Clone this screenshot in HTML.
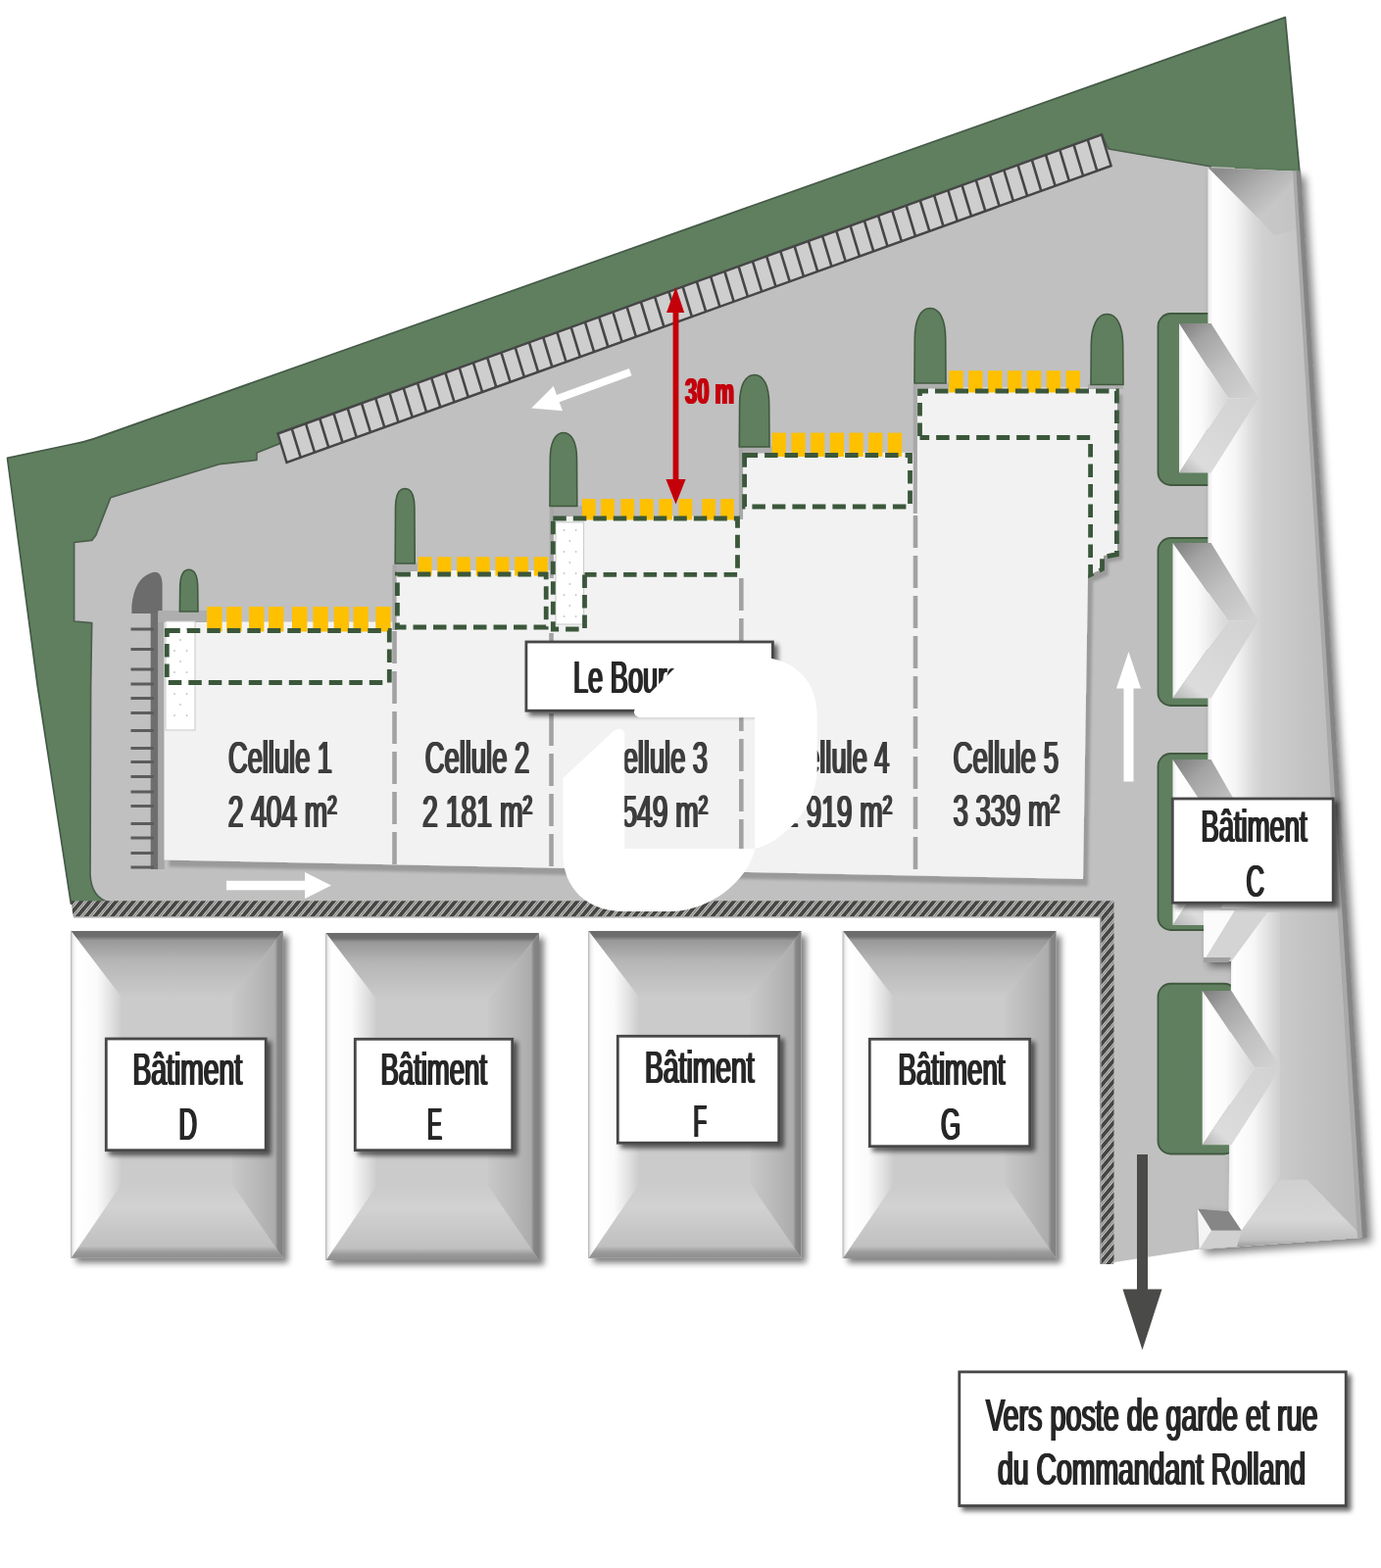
<!DOCTYPE html>
<html lang="fr"><head><meta charset="utf-8"><title>Plan de masse - Le Bourget</title>
<style>html,body{margin:0;padding:0;background:#fff;overflow:hidden}svg{display:block}text{font-family:"Liberation Sans",sans-serif}</style></head><body>
<svg width="1409" height="1600" viewBox="0 0 1409 1600" role="img" aria-label="Plan de masse">
<defs>
<filter id="sh" x="-20%" y="-20%" width="150%" height="150%"><feGaussianBlur in="SourceAlpha" stdDeviation="3.2"/><feOffset dx="4.5" dy="4.5"/><feComponentTransfer><feFuncA type="linear" slope="0.5"/></feComponentTransfer><feMerge><feMergeNode/><feMergeNode in="SourceGraphic"/></feMerge></filter>
<filter id="sh2" x="-20%" y="-20%" width="150%" height="150%"><feGaussianBlur in="SourceAlpha" stdDeviation="2.4"/><feOffset dx="3.5" dy="3.5"/><feComponentTransfer><feFuncA type="linear" slope="0.6"/></feComponentTransfer><feMerge><feMergeNode/><feMergeNode in="SourceGraphic"/></feMerge></filter>
<filter id="shB" x="-5%" y="-5%" width="110%" height="112%"><feGaussianBlur in="SourceAlpha" stdDeviation="1.4"/><feOffset dx="5" dy="7"/><feComponentTransfer><feFuncA type="linear" slope="0.2"/></feComponentTransfer><feMerge><feMergeNode/><feMergeNode in="SourceGraphic"/></feMerge></filter>
<filter id="shC" x="-10%" y="-5%" width="130%" height="112%"><feGaussianBlur in="SourceAlpha" stdDeviation="4"/><feOffset dx="5" dy="5"/><feComponentTransfer><feFuncA type="linear" slope="0.5"/></feComponentTransfer><feMerge><feMergeNode/><feMergeNode in="SourceGraphic"/></feMerge></filter>
<filter id="soft" x="-5%" y="-20%" width="110%" height="140%"><feOffset in="SourceGraphic" dx="0.75" result="a"/><feOffset in="SourceGraphic" dx="-0.75" result="b"/><feMerge result="m"><feMergeNode in="a"/><feMergeNode in="b"/><feMergeNode in="SourceGraphic"/></feMerge><feGaussianBlur in="m" stdDeviation="0.45"/></filter>
<pattern id="hatch" width="6.8" height="10" patternUnits="userSpaceOnUse" patternTransform="rotate(40)"><rect width="6.8" height="10" fill="#d8d8d6"/><rect x="0" y="0" width="4.0" height="10" fill="#454543"/><rect x="5.0" y="0" width="0.9" height="10" fill="#6a6a68"/></pattern>
<linearGradient id="gTop" x1="0" y1="0" x2="0" y2="1"><stop offset="0" stop-color="#6a6a6a"/><stop offset="0.08" stop-color="#6e6e6e"/><stop offset="0.14" stop-color="#989898"/><stop offset="0.45" stop-color="#b6b6b6"/><stop offset="1" stop-color="#cbcbcb"/></linearGradient>
<linearGradient id="gLeft" x1="0" y1="0" x2="1" y2="0"><stop offset="0" stop-color="#c8c8c8"/><stop offset="0.05" stop-color="#f2f2f2"/><stop offset="0.12" stop-color="#ffffff"/><stop offset="0.5" stop-color="#fbfbfb"/><stop offset="0.8" stop-color="#e0e0e0"/><stop offset="1" stop-color="#cbcbcb"/></linearGradient>
<linearGradient id="gRight" x1="0" y1="0" x2="1" y2="0"><stop offset="0" stop-color="#c8c8c8"/><stop offset="0.45" stop-color="#bababa"/><stop offset="0.84" stop-color="#acacac"/><stop offset="0.9" stop-color="#868686"/><stop offset="1" stop-color="#808080"/></linearGradient>
<linearGradient id="gBot" x1="0" y1="0" x2="0" y2="1"><stop offset="0" stop-color="#cbcbcb"/><stop offset="0.3" stop-color="#d2d2d2"/><stop offset="0.84" stop-color="#c0c0c0"/><stop offset="0.92" stop-color="#9a9a9a"/><stop offset="1" stop-color="#8e8e8e"/></linearGradient>
<linearGradient id="gCol" x1="0" y1="0" x2="1" y2="0"><stop offset="0" stop-color="#e8e8e8"/><stop offset="0.06" stop-color="#ffffff"/><stop offset="0.22" stop-color="#f0f0f0"/><stop offset="0.42" stop-color="#cfcfcf"/><stop offset="0.7" stop-color="#c4c4c4"/><stop offset="0.92" stop-color="#b0b0b0"/><stop offset="1" stop-color="#8a8a8a"/></linearGradient>
<linearGradient id="gWing" x1="0" y1="0" x2="1" y2="0"><stop offset="0" stop-color="#eaeaea"/><stop offset="0.08" stop-color="#ffffff"/><stop offset="0.45" stop-color="#fafafa"/><stop offset="1" stop-color="#d6d6d6"/></linearGradient>
<linearGradient id="gWingT" x1="0" y1="0" x2="0.9" y2="1"><stop offset="0" stop-color="#7c7c7c"/><stop offset="0.25" stop-color="#a4a4a4"/><stop offset="0.6" stop-color="#c0c0c0"/><stop offset="1" stop-color="#d2d2d2"/></linearGradient>
<linearGradient id="gWingB" x1="0" y1="1" x2="0.9" y2="0"><stop offset="0" stop-color="#b4b4b4"/><stop offset="0.2" stop-color="#dcdcdc"/><stop offset="1" stop-color="#d2d2d2"/></linearGradient>
<linearGradient id="gShB" x1="0" y1="0" x2="0" y2="1"><stop offset="0" stop-color="#9a9a9a"/><stop offset="1" stop-color="#c0c0c0"/></linearGradient>
<linearGradient id="gShR" x1="0" y1="0" x2="1" y2="0"><stop offset="0" stop-color="#9a9a9a"/><stop offset="1" stop-color="#c0c0c0"/></linearGradient>
</defs>
<rect width="1409" height="1600" fill="#ffffff"/>
<path d="M7.5,467.3 L75,453 Q86,451 96,447.6 L1311.3,17.6 L1326,176 L1240,600 L120,930 L72.4,922 L38.3,700 Z" fill="#5f7f5f" stroke="#455a47" stroke-width="1.7" stroke-linejoin="round"/>
<path d="M283.5,442.5 L1124,137.3 L1131,152 L1236,170 L1260,171 L1260,1270 L1221,1275 L1124,1290 L1124,921 L112,921 Q93,916 92,892 L92.6,700 L93.7,635.6 L75.6,634 L75.6,553.5 L93.7,551.4 L97.9,546 L112.8,507.7 L223.5,473.7 L261.9,469.4 L261.9,462 L286,452.4 Z" fill="#c0c0c0"/>
<path d="M1236,170 L1131,152 L1124,137.3 M286,452.4 L261.9,462 L261.9,469.4 L223.5,473.7 L112.8,507.7 L97.9,546 L93.7,551.4 L75.6,553.5 L75.6,634 L93.7,635.6 L92.6,700 L92,892 Q93,916 112,921" fill="none" stroke="#4c5e4c" stroke-width="1.7" stroke-linejoin="round"/>
<polygon points="283.5,442.5 1124,137.3 1133.6,169.2 292.5,472" fill="#cecece" stroke="#464646" stroke-width="2.5"/>
<path d="M297.7,437.3L306.8,466.9M312.0,432.2L321.0,461.7M326.2,427.0L335.3,456.6M340.5,421.8L349.5,451.5M354.7,416.6L363.8,446.3M369.0,411.5L378.0,441.2M383.2,406.3L392.3,436.1M397.5,401.1L406.5,430.9M411.7,395.9L420.8,425.8M426.0,390.8L435.1,420.7M440.2,385.6L449.3,415.5M454.4,380.4L463.6,410.4M468.7,375.3L477.8,405.3M482.9,370.1L492.1,400.1M497.2,364.9L506.3,395.0M511.4,359.7L520.6,389.9M525.7,354.6L534.9,384.8M539.9,349.4L549.1,379.6M554.2,344.2L563.4,374.5M568.4,339.0L577.6,369.4M582.7,333.9L591.9,364.2M596.9,328.7L606.1,359.1M611.2,323.5L620.4,354.0M625.4,318.4L634.6,348.8M639.6,313.2L648.9,343.7M653.9,308.0L663.2,338.6M668.1,302.8L677.4,333.4M682.4,297.7L691.7,328.3M696.6,292.5L705.9,323.2M710.9,287.3L720.2,318.0M725.1,282.1L734.4,312.9M739.4,277.0L748.7,307.8M753.6,271.8L762.9,302.6M767.9,266.6L777.2,297.5M782.1,261.4L791.5,292.4M796.3,256.3L805.7,287.2M810.6,251.1L820.0,282.1M824.8,245.9L834.2,277.0M839.1,240.8L848.5,271.8M853.3,235.6L862.7,266.7M867.6,230.4L877.0,261.6M881.8,225.2L891.2,256.4M896.1,220.1L905.5,251.3M910.3,214.9L919.8,246.2M924.6,209.7L934.0,241.1M938.8,204.5L948.3,235.9M953.1,199.4L962.5,230.8M967.3,194.2L976.8,225.7M981.5,189.0L991.0,220.5M995.8,183.9L1005.3,215.4M1010.0,178.7L1019.6,210.3M1024.3,173.5L1033.8,205.1M1038.5,168.3L1048.1,200.0M1052.8,163.2L1062.3,194.9M1067.0,158.0L1076.6,189.7M1081.3,152.8L1090.8,184.6M1095.5,147.6L1105.1,179.5M1109.8,142.5L1119.3,174.3" stroke="#464646" stroke-width="2.6" fill="none"/>
<path d="M134.4,626 L134.4,618 Q137,592 152,585.5 Q160,581.5 163.5,587 Q165.6,590 165.6,598 L165.6,626 Z" fill="#6c6c6c"/>
<rect x="153.7" y="625" width="7.8" height="262" fill="#6e6e6e"/><rect x="161.3" y="625" width="6.4" height="262" fill="#a6a6a6"/>
<path d="M133.5,641.9H157M133.5,662.5H157M133.5,683H157M133.5,698H157M133.5,712.5H157M133.5,727.5H157M133.5,745.6H157M133.5,763.5H157M133.5,777.5H157M133.5,792.5H157M133.5,808H157M133.5,822.5H157M133.5,840.6H157M133.5,855H157M133.5,870.6H157M133.5,885H157" stroke="#5c5c5c" stroke-width="3" fill="none"/>
<g filter="url(#shB)"><polygon points="167.5,634.5 402.5,634.5 402.5,582 563,582 563,526.5 757,526.5 757,461.7 934,461.7 934,395.5 1140,395.5 1140,564 1126,567 1126,580 1112,586 1110,586 1105,897 167.5,877.5" fill="#f2f2f2"/></g>
<rect x="161.3" y="623" width="49.69999999999999" height="12" fill="#aeaeae"/>
<rect x="402.5" y="574" width="23.5" height="9" fill="#aeaeae"/>
<rect x="561.5" y="516" width="33.5" height="11" fill="#aeaeae"/>
<rect x="754" y="455.5" width="34" height="7.0" fill="#aeaeae"/>
<rect x="933" y="390.5" width="35" height="6.0" fill="#aeaeae"/>
<rect x="1110" y="392" width="36" height="5" fill="#aeaeae"/>
<path d="M183.4,624 L183.7,599.0 C183.9,588.3 186.9,581.3 192.7,581.3 C198.5,581.3 201.5,588.3 201.7,599.0 L202,624 Z" fill="#5f7f5f" stroke="#41593f" stroke-width="1.6"/>
<path d="M403.2,575 L403.5,517.5 C403.7,506.0 407.0,498.5 413.2,498.5 C419.4,498.5 422.7,506.0 422.9,517.5 L423.2,575 Z" fill="#5f7f5f" stroke="#41593f" stroke-width="1.6"/>
<path d="M561,516.5 L561.3,467.9 C561.5,451.9 566.3,441.5 574.9,441.5 C583.5,441.5 588.3,451.9 588.5,467.9 L588.8,516.5 Z" fill="#5f7f5f" stroke="#41593f" stroke-width="1.6"/>
<path d="M754.3,456 L754.6,411.7 C754.8,394.0 760.1,382.5 769.65,382.5 C779.2,382.5 784.5,394.0 784.7,411.7 L785,456 Z" fill="#5f7f5f" stroke="#41593f" stroke-width="1.6"/>
<path d="M933,391 L933.3,344.9 C933.5,326.5 939.1,314.5 949.0,314.5 C958.9,314.5 964.5,326.5 964.7,344.9 L965,391 Z" fill="#5f7f5f" stroke="#41593f" stroke-width="1.6"/>
<path d="M1113,392.5 L1113.3,351.9 C1113.5,332.9 1119.3,320.5 1129.5,320.5 C1139.7,320.5 1145.5,332.9 1145.7,351.9 L1146,392.5 Z" fill="#5f7f5f" stroke="#41593f" stroke-width="1.6"/>
<rect x="169" y="634" width="30" height="111" fill="#ffffff" stroke="#c8c8c8" stroke-width="1"/>
<circle cx="178.0" cy="642.0" r="0.9" fill="#c4c4c4"/><circle cx="190.6" cy="642.0" r="0.9" fill="#c4c4c4"/><circle cx="184.0" cy="653.0" r="0.9" fill="#c4c4c4"/><circle cx="178.0" cy="664.0" r="0.9" fill="#c4c4c4"/><circle cx="190.6" cy="664.0" r="0.9" fill="#c4c4c4"/><circle cx="184.0" cy="675.0" r="0.9" fill="#c4c4c4"/><circle cx="178.0" cy="686.0" r="0.9" fill="#c4c4c4"/><circle cx="190.6" cy="686.0" r="0.9" fill="#c4c4c4"/><circle cx="184.0" cy="697.0" r="0.9" fill="#c4c4c4"/><circle cx="178.0" cy="708.0" r="0.9" fill="#c4c4c4"/><circle cx="190.6" cy="708.0" r="0.9" fill="#c4c4c4"/><circle cx="184.0" cy="719.0" r="0.9" fill="#c4c4c4"/><circle cx="178.0" cy="730.0" r="0.9" fill="#c4c4c4"/><circle cx="190.6" cy="730.0" r="0.9" fill="#c4c4c4"/>
<rect x="567" y="533" width="28.6" height="104" fill="#ffffff" stroke="#c8c8c8" stroke-width="1"/>
<circle cx="575.6" cy="541.0" r="0.9" fill="#c4c4c4"/><circle cx="587.6" cy="541.0" r="0.9" fill="#c4c4c4"/><circle cx="581.3" cy="552.0" r="0.9" fill="#c4c4c4"/><circle cx="575.6" cy="563.0" r="0.9" fill="#c4c4c4"/><circle cx="587.6" cy="563.0" r="0.9" fill="#c4c4c4"/><circle cx="581.3" cy="574.0" r="0.9" fill="#c4c4c4"/><circle cx="575.6" cy="585.0" r="0.9" fill="#c4c4c4"/><circle cx="587.6" cy="585.0" r="0.9" fill="#c4c4c4"/><circle cx="581.3" cy="596.0" r="0.9" fill="#c4c4c4"/><circle cx="575.6" cy="607.0" r="0.9" fill="#c4c4c4"/><circle cx="587.6" cy="607.0" r="0.9" fill="#c4c4c4"/><circle cx="581.3" cy="618.0" r="0.9" fill="#c4c4c4"/><circle cx="575.6" cy="629.0" r="0.9" fill="#c4c4c4"/><circle cx="587.6" cy="629.0" r="0.9" fill="#c4c4c4"/>
<rect x="211.2" y="619" width="15.4" height="25.5" fill="#ffc000"/><rect x="231.2" y="619" width="15.4" height="25.5" fill="#ffc000"/><rect x="254.0" y="619" width="15.4" height="25.5" fill="#ffc000"/><rect x="274.0" y="619" width="15.4" height="25.5" fill="#ffc000"/><rect x="298.0" y="619" width="15.4" height="25.5" fill="#ffc000"/><rect x="319.4" y="619" width="15.4" height="25.5" fill="#ffc000"/><rect x="340.7" y="619" width="15.4" height="25.5" fill="#ffc000"/><rect x="360.5" y="619" width="15.4" height="25.5" fill="#ffc000"/><rect x="383.3" y="619" width="15.4" height="25.5" fill="#ffc000"/>
<rect x="426.6" y="568.3" width="14" height="19.200000000000045" fill="#ffc000"/><rect x="446.3" y="568.3" width="14" height="19.200000000000045" fill="#ffc000"/><rect x="466.0" y="568.3" width="14" height="19.200000000000045" fill="#ffc000"/><rect x="485.7" y="568.3" width="14" height="19.200000000000045" fill="#ffc000"/><rect x="505.4" y="568.3" width="14" height="19.200000000000045" fill="#ffc000"/><rect x="525.1" y="568.3" width="14" height="19.200000000000045" fill="#ffc000"/><rect x="544.8" y="568.3" width="14" height="19.200000000000045" fill="#ffc000"/>
<rect x="594.0" y="509" width="13.6" height="21.5" fill="#ffc000"/><rect x="613.2" y="509" width="13.6" height="21.5" fill="#ffc000"/><rect x="633.5" y="509" width="13.6" height="21.5" fill="#ffc000"/><rect x="652.9" y="509" width="13.6" height="21.5" fill="#ffc000"/><rect x="672.4" y="509" width="13.6" height="21.5" fill="#ffc000"/><rect x="692.6" y="509" width="13.6" height="21.5" fill="#ffc000"/><rect x="716.3" y="509" width="13.6" height="21.5" fill="#ffc000"/><rect x="735.3" y="509" width="13.6" height="21.5" fill="#ffc000"/>
<rect x="787.7" y="441.6" width="14.2" height="24.399999999999977" fill="#ffc000"/><rect x="807.4" y="441.6" width="14.2" height="24.399999999999977" fill="#ffc000"/><rect x="827.1" y="441.6" width="14.2" height="24.399999999999977" fill="#ffc000"/><rect x="846.8" y="441.6" width="14.2" height="24.399999999999977" fill="#ffc000"/><rect x="866.5" y="441.6" width="14.2" height="24.399999999999977" fill="#ffc000"/><rect x="886.2" y="441.6" width="14.2" height="24.399999999999977" fill="#ffc000"/><rect x="905.9" y="441.6" width="14.2" height="24.399999999999977" fill="#ffc000"/>
<rect x="968.2" y="378.2" width="14.4" height="22.30000000000001" fill="#ffc000"/><rect x="988.1" y="378.2" width="14.4" height="22.30000000000001" fill="#ffc000"/><rect x="1008.0" y="378.2" width="14.4" height="22.30000000000001" fill="#ffc000"/><rect x="1027.9" y="378.2" width="14.4" height="22.30000000000001" fill="#ffc000"/><rect x="1047.8" y="378.2" width="14.4" height="22.30000000000001" fill="#ffc000"/><rect x="1067.7" y="378.2" width="14.4" height="22.30000000000001" fill="#ffc000"/><rect x="1087.6" y="378.2" width="14.4" height="22.30000000000001" fill="#ffc000"/>
<path d="M402.5,576V643 M562.8,518V590 M756,457V530 M933.8,392V524" stroke="#a8a8a8" stroke-width="4.2" fill="none"/>
<path d="M402.5,644V882 M562.5,646V885 M756.3,590V890 M934,526V893" stroke="#a2a2a2" stroke-width="4.6" stroke-dasharray="33 8" fill="none"/>
<path d="M170.3,643.5 H397.3 V696.5 H170.3 Z" stroke="#3b573b" stroke-width="4.8" stroke-dasharray="13.5 7" fill="none"/>
<path d="M405.4,586 H557.2 V640 H405.4 Z" stroke="#3b573b" stroke-width="4.8" stroke-dasharray="13.5 7" fill="none"/>
<path d="M564.3,529 H752.5 V586.4 H596.5 M596.5,586.4 V642 H564.3 V529" stroke="#3b573b" stroke-width="4.8" stroke-dasharray="13.5 7" fill="none"/>
<path d="M759.6,464.5 H928.5 V517 H759.6 Z" stroke="#3b573b" stroke-width="4.8" stroke-dasharray="13.5 7" fill="none"/>
<path d="M938.5,445 V399 H1139.4 V565.7 L1124.5,568.6 V580.6 L1112.6,586.5 V446.5 H938.5" stroke="#3b573b" stroke-width="4.8" stroke-dasharray="13.5 7" fill="none"/>
<polygon points="641.9,376.1 568.0,403.1 564.7,394.0 542.1,416.6 574.0,419.3 570.6,410.2 644.5,383.3" fill="#ffffff" />
<polygon points="231.0,908.3 311.0,908.3 311.0,917.0 338.0,903.5 311.0,890.0 311.0,898.7 231.0,898.7" fill="#ffffff" />
<polygon points="1156.5,797.5 1156.5,702.5 1164.0,702.5 1151.5,665.0 1139.0,702.5 1146.5,702.5 1146.5,797.5" fill="#ffffff" />
<path d="M689.5,293 L698.2,319 H692.4 V489 H699.6 L689.5,514.6 L679.4,489 H686.6 V319 H680 Z" fill="#c4000a"/>
<text x="699" y="411.6" font-size="37" font-weight="bold" fill="#c4000a" textLength="50" lengthAdjust="spacingAndGlyphs" filter="url(#soft)">30 m</text>
<path d="M72.4,919.2 H1136.5 V1290 H1123.3 V935.2 H74.6 Z" fill="url(#hatch)"/>
<path d="M75,935.9 H1122.7 V1290" stroke="#8a8a8a" stroke-width="1.4" fill="none" opacity="0.8"/>
<g filter="url(#sh)"><rect x="72.5" y="950" width="216.25" height="333.75" fill="#cbcbcb"/></g>
<polygon points="72.5,950 288.75,950 236.75,1018 124.5,1018" fill="url(#gTop)"/>
<polygon points="72.5,1283.75 288.75,1283.75 236.75,1207.75 124.5,1207.75" fill="url(#gBot)"/>
<polygon points="72.5,950 124.5,1018 124.5,1207.75 72.5,1283.75" fill="url(#gLeft)"/>
<polygon points="288.75,950 236.75,1018 236.75,1207.75 288.75,1283.75" fill="url(#gRight)"/>
<path d="M72.5,1283.75 V950" fill="none" stroke="#bdbdbd" stroke-width="1"/>
<g filter="url(#sh)"><rect x="332.5" y="952" width="217.5" height="334" fill="#cbcbcb"/></g>
<polygon points="332.5,952 550,952 498,1020 384.5,1020" fill="url(#gTop)"/>
<polygon points="332.5,1286 550,1286 498,1210 384.5,1210" fill="url(#gBot)"/>
<polygon points="332.5,952 384.5,1020 384.5,1210 332.5,1286" fill="url(#gLeft)"/>
<polygon points="550,952 498,1020 498,1210 550,1286" fill="url(#gRight)"/>
<path d="M332.5,1286 V952" fill="none" stroke="#bdbdbd" stroke-width="1"/>
<g filter="url(#sh)"><rect x="600.5" y="950" width="217.0" height="333.75" fill="#cbcbcb"/></g>
<polygon points="600.5,950 817.5,950 765.5,1018 652.5,1018" fill="url(#gTop)"/>
<polygon points="600.5,1283.75 817.5,1283.75 765.5,1207.75 652.5,1207.75" fill="url(#gBot)"/>
<polygon points="600.5,950 652.5,1018 652.5,1207.75 600.5,1283.75" fill="url(#gLeft)"/>
<polygon points="817.5,950 765.5,1018 765.5,1207.75 817.5,1283.75" fill="url(#gRight)"/>
<path d="M600.5,1283.75 V950" fill="none" stroke="#bdbdbd" stroke-width="1"/>
<g filter="url(#sh)"><rect x="860" y="950" width="217.5" height="334" fill="#cbcbcb"/></g>
<polygon points="860,950 1077.5,950 1025.5,1018 912,1018" fill="url(#gTop)"/>
<polygon points="860,1284 1077.5,1284 1025.5,1208 912,1208" fill="url(#gBot)"/>
<polygon points="860,950 912,1018 912,1208 860,1284" fill="url(#gLeft)"/>
<polygon points="1077.5,950 1025.5,1018 1025.5,1208 1077.5,1284" fill="url(#gRight)"/>
<path d="M860,1284 V950" fill="none" stroke="#bdbdbd" stroke-width="1"/>
<g filter="url(#shC)"><polygon points="1232.6,171 1326.8,175 1394.4,1262.5 1223.7,1275 1222,1233.5 1253.6,1236 1256.2,981 1228,981 1228,929 1232.6,927" fill="#c4c4c4"/></g>
<rect x="1181.5" y="320" width="63.5" height="175" rx="13" ry="13" fill="#5f7f5f" stroke="#41593f" stroke-width="1.8"/>
<rect x="1181.5" y="549" width="63.5" height="171" rx="13" ry="13" fill="#5f7f5f" stroke="#41593f" stroke-width="1.8"/>
<rect x="1181.5" y="769" width="63.5" height="180" rx="13" ry="13" fill="#5f7f5f" stroke="#41593f" stroke-width="1.8"/>
<rect x="1181.5" y="1003.75" width="80.5" height="173.75" rx="13" ry="13" fill="#5f7f5f" stroke="#41593f" stroke-width="1.8"/>
<linearGradient id="gcR" gradientUnits="userSpaceOnUse" x1="1284" y1="0" x2="1392" y2="0"><stop offset="0" stop-color="#d2d2d2"/><stop offset="0.35" stop-color="#c6c6c6"/><stop offset="1" stop-color="#b6b6b6"/></linearGradient>
<linearGradient id="gcL1" gradientUnits="userSpaceOnUse" x1="1232.6" y1="0" x2="1287" y2="0"><stop offset="0" stop-color="#ececec"/><stop offset="0.1" stop-color="#ffffff"/><stop offset="0.5" stop-color="#f6f6f6"/><stop offset="0.85" stop-color="#dadada"/><stop offset="1" stop-color="#d2d2d2"/></linearGradient>
<linearGradient id="gcL2" gradientUnits="userSpaceOnUse" x1="1253.4" y1="0" x2="1306" y2="0"><stop offset="0" stop-color="#ececec"/><stop offset="0.1" stop-color="#ffffff"/><stop offset="0.5" stop-color="#f6f6f6"/><stop offset="0.85" stop-color="#dadada"/><stop offset="1" stop-color="#cfcfcf"/></linearGradient>
<linearGradient id="gcB" gradientUnits="userSpaceOnUse" x1="0" y1="1204" x2="0" y2="1272"><stop offset="0" stop-color="#d0d0d0"/><stop offset="0.6" stop-color="#d6d6d6"/><stop offset="0.9" stop-color="#c0c0c0"/><stop offset="1" stop-color="#9c9c9c"/></linearGradient>
<linearGradient id="gcT" gradientUnits="userSpaceOnUse" x1="1250" y1="171" x2="1290" y2="225"><stop offset="0" stop-color="#8c8c8c"/><stop offset="0.5" stop-color="#b0b0b0"/><stop offset="1" stop-color="#cccccc"/></linearGradient>
<polygon points="1232.6,171 1326.8,175 1394.4,1262.5 1223.7,1275 1222,1233.5 1253.6,1236 1256.2,981 1228,981 1228,929 1232.6,927" fill="url(#gcR)"/>
<polygon points="1232.6,171 1287,226 1287,927 1232.6,927" fill="url(#gcL1)"/>
<polygon points="1256.2,981 1293,931 1306,931 1306,1200 1266.7,1255.7 1253.6,1236" fill="url(#gcL2)"/>
<polygon points="1232.6,171 1326.8,175 1285,224" fill="url(#gcT)"/>
<polygon points="1326.8,175 1285,224 1300,240 1330,232" fill="#c2c2c2" opacity="0.6"/>
<polygon points="1266.7,1255.7 1303.8,1203.8 1333.5,1203.8 1388.4,1260.2 1394.4,1262.5 1223.7,1275" fill="url(#gcB)"/>
<polygon points="1319,175 1326.8,175 1394.4,1262.5 1385,1263.2" fill="#a9a9a9"/>
<polygon points="1323,175 1326.8,175 1394.4,1262.5 1390.4,1262.8" fill="#858585" stroke="#858585" stroke-width="0.9" stroke-linejoin="round"/>
<polygon points="1203,330 1235.6,330 1284,406.25 1253,406.25" fill="url(#gWingT)"/>
<polygon points="1203,482.5 1235.6,482.5 1284,406.25 1253,406.25" fill="url(#gWingB)"/>
<polygon points="1203,330 1253,406.25 1203,482.5" fill="url(#gWing)"/>
<polygon points="1196.5,554 1235.6,554 1284,633.25 1253,633.25" fill="url(#gWingT)"/>
<polygon points="1196.5,712.5 1235.6,712.5 1284,633.25 1253,633.25" fill="url(#gWingB)"/>
<polygon points="1196.5,554 1253,633.25 1196.5,712.5" fill="url(#gWing)"/>
<polygon points="1196.5,775 1235.6,775 1284,859.5 1253,859.5" fill="url(#gWingT)"/>
<polygon points="1196.5,944 1235.6,944 1284,859.5 1253,859.5" fill="url(#gWingB)"/>
<polygon points="1196.5,775 1253,859.5 1196.5,944" fill="url(#gWing)"/>
<polygon points="1226.7,1011 1256.4,1011 1307,1089.6 1280,1089.6" fill="url(#gWingT)"/>
<polygon points="1226.7,1168.2 1256.4,1168.2 1307,1089.6 1280,1089.6" fill="url(#gWingB)"/>
<polygon points="1226.7,1011 1280,1089.6 1226.7,1168.2" fill="url(#gWing)"/>
<polygon points="1228,929 1260,929 1228,981" fill="#fbfbfb"/>
<polygon points="1260,929 1293,931 1256,981 1228,981" fill="#d4d4d4"/>
<polygon points="1228,977 1256,977 1253.4,982 1228,982" fill="#a0a0a0"/>
<polygon points="1222,1233.5 1253.4,1236 1266.7,1255.7 1236,1255.7" fill="#868686"/>
<polygon points="1222,1233.5 1236,1255.7 1223.7,1275" fill="#f4f4f4"/>
<polygon points="1236,1255.7 1266.7,1255.7 1262,1272 1223.7,1275" fill="#d0d0d0"/>
<text x="233" y="789" font-size="47" font-weight="normal" fill="#3c3c3c" textLength="106.0" lengthAdjust="spacingAndGlyphs" filter="url(#soft)">Cellule 1</text>
<text x="232.8" y="843.5" font-size="47" font-weight="normal" fill="#3c3c3c" textLength="110.7" lengthAdjust="spacingAndGlyphs" filter="url(#soft)">2 404 m²</text>
<text x="433.7" y="789" font-size="47" font-weight="normal" fill="#3c3c3c" textLength="106.5" lengthAdjust="spacingAndGlyphs" filter="url(#soft)">Cellule 2</text>
<text x="431" y="844" font-size="47" font-weight="normal" fill="#3c3c3c" textLength="112.0" lengthAdjust="spacingAndGlyphs" filter="url(#soft)">2 181 m²</text>
<text x="616" y="789" font-size="47" font-weight="normal" fill="#3c3c3c" textLength="106.0" lengthAdjust="spacingAndGlyphs" filter="url(#soft)">Cellule 3</text>
<text x="611" y="844" font-size="47" font-weight="normal" fill="#3c3c3c" textLength="111.0" lengthAdjust="spacingAndGlyphs" filter="url(#soft)">2 549 m²</text>
<text x="801.5" y="789" font-size="47" font-weight="normal" fill="#3c3c3c" textLength="106.0" lengthAdjust="spacingAndGlyphs" filter="url(#soft)">Cellule 4</text>
<text x="799" y="844" font-size="47" font-weight="normal" fill="#3c3c3c" textLength="111.0" lengthAdjust="spacingAndGlyphs" filter="url(#soft)">2 919 m²</text>
<text x="972.5" y="789" font-size="47" font-weight="normal" fill="#3c3c3c" textLength="107.5" lengthAdjust="spacingAndGlyphs" filter="url(#soft)">Cellule 5</text>
<text x="972.5" y="843" font-size="47" font-weight="normal" fill="#3c3c3c" textLength="108.5" lengthAdjust="spacingAndGlyphs" filter="url(#soft)">3 339 m²</text>
<g filter="url(#sh2)"><rect x="536.9" y="655.0" width="251.5" height="70.2" fill="#ffffff" stroke="#474747" stroke-width="2.8"/></g>
<text x="585" y="706.8" font-size="47" font-weight="normal" fill="#262626" textLength="133.0" lengthAdjust="spacingAndGlyphs" filter="url(#soft)">Le Bourget</text>
<g filter="url(#sh2)"><rect x="108.3" y="1060.0" width="162.9" height="113.7" fill="#ffffff" stroke="#474747" stroke-width="2.8"/></g>
<text x="135.5" y="1107.2" font-size="47" font-weight="normal" fill="#262626" textLength="111.5" lengthAdjust="spacingAndGlyphs" filter="url(#soft)">Bâtiment</text>
<text x="182.5" y="1163" font-size="47" font-weight="normal" fill="#262626" textLength="18.5" lengthAdjust="spacingAndGlyphs" filter="url(#soft)">D</text>
<g filter="url(#sh2)"><rect x="362.3" y="1060.3" width="160.4" height="113.4" fill="#ffffff" stroke="#474747" stroke-width="2.8"/></g>
<text x="388.5" y="1107.2" font-size="47" font-weight="normal" fill="#262626" textLength="108.5" lengthAdjust="spacingAndGlyphs" filter="url(#soft)">Bâtiment</text>
<text x="436" y="1163" font-size="47" font-weight="normal" fill="#262626" textLength="15.0" lengthAdjust="spacingAndGlyphs" filter="url(#soft)">E</text>
<g filter="url(#sh2)"><rect x="630.3" y="1057.3" width="164.4" height="108.9" fill="#ffffff" stroke="#474747" stroke-width="2.8"/></g>
<text x="658" y="1105" font-size="47" font-weight="normal" fill="#262626" textLength="111.5" lengthAdjust="spacingAndGlyphs" filter="url(#soft)">Bâtiment</text>
<text x="707.5" y="1159.5" font-size="47" font-weight="normal" fill="#262626" textLength="13.5" lengthAdjust="spacingAndGlyphs" filter="url(#soft)">F</text>
<g filter="url(#sh2)"><rect x="887.3" y="1060.3" width="163.4" height="109.4" fill="#ffffff" stroke="#474747" stroke-width="2.8"/></g>
<text x="916.5" y="1107.2" font-size="47" font-weight="normal" fill="#262626" textLength="109.0" lengthAdjust="spacingAndGlyphs" filter="url(#soft)">Bâtiment</text>
<text x="960" y="1163" font-size="47" font-weight="normal" fill="#262626" textLength="20.0" lengthAdjust="spacingAndGlyphs" filter="url(#soft)">G</text>
<g filter="url(#sh2)"><rect x="1196.3" y="815.0" width="163.9" height="106.2" fill="#ffffff" stroke="#474747" stroke-width="2.8"/></g>
<text x="1225.5" y="858.5" font-size="47" font-weight="normal" fill="#262626" textLength="108.0" lengthAdjust="spacingAndGlyphs" filter="url(#soft)">Bâtiment</text>
<text x="1271.5" y="914.5" font-size="47" font-weight="normal" fill="#262626" textLength="18.5" lengthAdjust="spacingAndGlyphs" filter="url(#soft)">C</text>
<polygon points="1160.0,1178.0 1160.0,1315.5 1145.5,1315.5 1165.5,1377.5 1185.5,1315.5 1171.0,1315.5 1171.0,1178.0" fill="#4a4a48" />
<g filter="url(#sh2)"><rect x="978.8" y="1399.9" width="394.4" height="136.6" fill="#ffffff" stroke="#474747" stroke-width="2.8"/></g>
<text x="1006" y="1460" font-size="45.5" font-weight="normal" fill="#262626" textLength="338.5" lengthAdjust="spacingAndGlyphs" filter="url(#soft)">Vers poste de garde et rue</text>
<text x="1018" y="1515" font-size="45.5" font-weight="normal" fill="#262626" textLength="314.0" lengthAdjust="spacingAndGlyphs" filter="url(#soft)">du Commandant Rolland</text>
<path d="M652,732.3 H770 V866 C792,862 833.7,830 833.7,783.8 L833.7,730 C833.7,695 810,670.6 772,670.6 L712,670.6 Q700,671 690,680 L648.5,722 Q644,729 652,732.3 Z" fill="#ffffff"/>
<path d="M637.2,748 V866 H770 C766,892 730,930 683.5,930 L636,930 C598,930 574.4,905 574.4,872 L574.4,794 L626,746 Q634,740 637.2,748 Z" fill="#ffffff"/>
</svg></body></html>
